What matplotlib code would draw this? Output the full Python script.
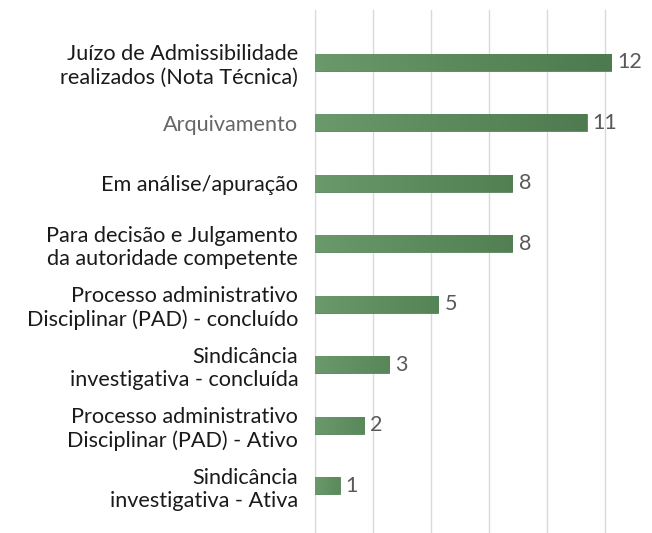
import numpy as np
import matplotlib.pyplot as plt
from matplotlib.colors import LinearSegmentedColormap

categorias = [
    "Juízo de Admissibilidade\nrealizados (Nota Técnica)",
    "Arquivamento",
    "Em análise/apuração",
    "Para decisão e Julgamento\nda autoridade competente",
    "Processo administrativo\nDisciplinar (PAD) - concluído",
    "Sindicância\ninvestigativa - concluída",
    "Processo administrativo\nDisciplinar (PAD) - Ativo",
    "Sindicância\ninvestigativa - Ativa",
]
valores = [12, 11, 8, 8, 5, 3, 2, 1]

plt.rcParams['font.family'] = ['Lato', 'DejaVu Sans']

fig = plt.figure(figsize=(6.52, 5.33), dpi=100)
ax = fig.add_axes([0.483, 0.0, 0.517, 0.981])

y = np.arange(len(categorias))
bars = ax.barh(y, valores, height=0.28, color='#5b8a5c', edgecolor='#55845a', linewidth=0.6, zorder=3)

# light-to-dark green gradient inside each bar (stronger on the long ones)
cmap = LinearSegmentedColormap.from_list('verde', ['#6a9a6b', '#5a8a5b', '#4d7a4f'])
xmax = max(valores)
for b in bars:
    x0, y0 = b.get_x(), b.get_y()
    w, h = b.get_width(), b.get_height()
    grad = np.linspace(0, 0.45 + 0.55 * w / xmax, 64).reshape(1, -1)
    im = ax.imshow(grad, cmap=cmap, vmin=0, vmax=1, aspect='auto',
                   extent=(x0, x0 + w, y0 + h, y0), zorder=4)
    im.set_clip_path(b)

for b, v in zip(bars, valores):
    ax.text(b.get_width() + 0.25, b.get_y() + b.get_height() / 2, str(v),
            va='center', ha='left', fontsize=15.5, color='#595959')

ax.set_yticks(y)
ax.set_yticklabels(categorias, fontsize=15.6, color='#1a1a1a', linespacing=1.2)
ax.get_yticklabels()[1].set_color('#666666')
ax.tick_params(axis='y', length=0, pad=12)

ax.set_xlim(0, 13.65)
ax.set_ylim(len(categorias) - 1 + 0.78, -0.86)
ax.set_xticks(np.arange(0, 13.6, 2.35))
ax.tick_params(axis='x', length=0, labelbottom=False)
ax.grid(axis='x', color='#d9d9d9', linewidth=1, zorder=0)

for s in ['top', 'right', 'bottom']:
    ax.spines[s].set_visible(False)
ax.spines['left'].set_color('#d9d9d9')

fig.savefig('out.png', dpi=100)
